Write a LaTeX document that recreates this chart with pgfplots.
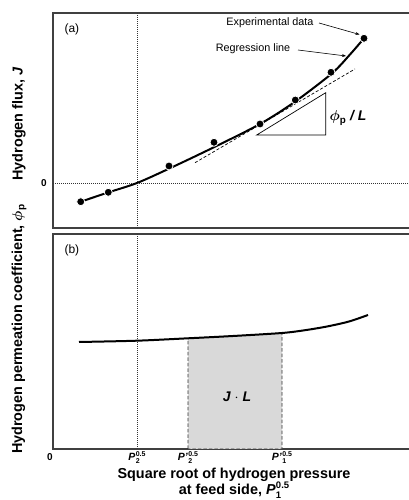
\documentclass[border=0pt]{standalone}
\usepackage{amsmath}
\usepackage{fontspec}
\setmainfont{Liberation Sans}
\usepackage{pgfplots}
\pgfplotsset{compat=1.18}
\usetikzlibrary{arrows.meta}
% P with stacked subscript and superscript (tick labels)
\newcommand{\Pt}[3]{\textbf{\textit{#1}}\kern0.3pt\raisebox{-2.6pt}{\fontsize{7}{7}\selectfont\bfseries\begin{tabular}[b]{@{}l@{}}#3\\#2\end{tabular}}}
% same for the axis title
\newcommand{\Pl}[3]{\textbf{\textit{#1}}\kern0.3pt\raisebox{-3.6pt}{\fontsize{9.5}{9.5}\selectfont\bfseries\begin{tabular}[b]{@{}l@{}}#3\\#2\end{tabular}}}
\tikzset{dotline/.style={black!80, line width=0.6pt, dash pattern=on 1pt off 1pt}}
\begin{document}
\begin{tikzpicture}
\useasboundingbox (0pt,0pt) rectangle (409pt,500pt);
\clip (0pt,0pt) rectangle (409pt,500pt);
\pgfplotsset{
  panel/.style={scale only axis, width=367pt, xmin=0, xmax=367,
    axis line style={line width=1.1pt, black!75},
    major tick length=0pt, anchor=south west, clip mode=individual,
    tick label style={font=\fontsize{10.5}{12}\selectfont\bfseries}},
}
% ---------- panel (a)
\begin{axis}[panel, at={(53pt,272pt)}, height=215pt, ymin=-45, ymax=170,
  xtick=\empty, ytick=\empty]
\draw[dotline] (84,-45) -- (84,170);
\draw[dotline] (0,0) -- (367,0);
\node[anchor=east, font=\fontsize{10}{12}\selectfont\bfseries, inner sep=0pt] at (-6,0) {0};
\addplot[black, line width=0.7pt, dash pattern=on 3pt off 2pt] coordinates {(142,20.3) (302,114)};
\draw[black, line width=0.7pt] (203.7,48) -- (272.7,48) -- (272.7,90.3) -- cycle;
\addplot[black, line width=2pt, smooth] coordinates {
  (27.7,-18.7) (55,-9.5) (84,0) (117,14.8) (160,35.3) (207,59) (242,81.3) (279,109.7) (297,128.5) (311,144.7)};
\addplot[only marks, mark=*, mark size=4pt, mark options={fill=black, draw=white, line width=0.8pt}] coordinates {
  (27.7,-18.7) (55.3,-9.3) (116,17) (161,40.7) (207,59) (242.3,83) (278,110.7) (311,144.7)};
\node[anchor=west, font=\fontsize{12}{14}\selectfont] at (8,154) {(a)};
\node[anchor=west, font=\fontsize{14}{16}\selectfont\bfseries\itshape] at (273,65) {$\boldsymbol{\phi}$\textsubscript{\upshape p} / L};
\node[anchor=east, font=\fontsize{10.8}{13}\selectfont] at (264,160) {Experimental data};
\draw[-{Stealth[length=4pt,width=3pt]}, line width=0.6pt] (266,160) -- (306.5,148.5);
\node[font=\fontsize{10.8}{13}\selectfont] at (200,134) {Regression line};
\draw[-{Stealth[length=4pt,width=3pt]}, line width=0.6pt] (245,133) -- (293,127);
\end{axis}
% ---------- panel (b)
\begin{axis}[panel, at={(53pt,51pt)}, height=215pt, ymin=0, ymax=215,
  ytick=\empty, xtick={84,135,229},
  xticklabels={\Pt{P}{2}{0.5}, \Pt{P'}{2}{0.5}, \Pt{P'}{1}{0.5}},
  xticklabel style={anchor=north, yshift=1pt}]
\addplot[fill=black!15, draw=black!80, line width=0.8pt, dash pattern=on 3.5pt off 2pt] coordinates {
  (135,0) (135,110.7) (180,113) (229,116) (229,0)} -- cycle;
\draw[dotline] (84,0) -- (84,215);
\addplot[black, line width=2pt, smooth] coordinates {
  (26,107) (84,108.3) (135,110.7) (180,113) (229,116) (252,118.8) (274,122.5) (296,127.5) (315,134)};
\node[anchor=north, font=\fontsize{10}{12}\selectfont\bfseries] at (-3,-1) {0};
\node[anchor=west, font=\fontsize{12}{14}\selectfont] at (8,199) {(b)};
\node[font=\fontsize{14}{16}\selectfont\bfseries\itshape] at (184,52) {J $\cdot$ L};
\end{axis}
% ---------- labels
\node[rotate=90, font=\fontsize{14.4}{17}\selectfont\bfseries] at (19pt,376pt) {Hydrogen flux, \textit{J}};
\node[rotate=90, font=\fontsize{14.4}{17}\selectfont\bfseries] at (19pt,171pt) {Hydrogen permeation coefficient, $\boldsymbol{\phi}$\textsubscript{p}};
\node[font=\fontsize{14.4}{17}\selectfont\bfseries] at (234pt,25pt) {Square root of hydrogen pressure};
\node[font=\fontsize{14.4}{17}\selectfont\bfseries] at (234pt,8.5pt) {at feed side, \Pl{P}{1}{0.5}};
\end{tikzpicture}
\end{document}
